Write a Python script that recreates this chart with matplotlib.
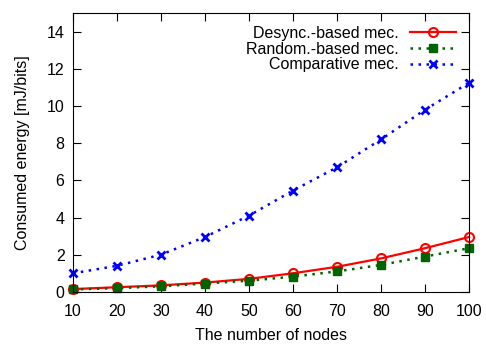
import matplotlib.pyplot as plt

plt.rcParams["font.family"] = ["Liberation Sans", "DejaVu Sans"]
plt.rcParams["font.size"] = 11.5

nodes = [10, 20, 30, 40, 50, 60, 70, 80, 90, 100]
desync = [0.15, 0.25, 0.35, 0.5, 0.7, 1.0, 1.35, 1.8, 2.35, 2.95]
random_mec = [0.13, 0.2, 0.3, 0.45, 0.6, 0.82, 1.1, 1.45, 1.9, 2.35]
comparative = [1.0, 1.4, 2.0, 2.95, 4.1, 5.45, 6.7, 8.2, 9.8, 11.25]

fig = plt.figure(figsize=(4.86, 3.45), dpi=100)
ax = fig.add_axes([0.150, 0.154, 0.815, 0.808])

ax.plot(nodes, desync, color="#ff0000", lw=1.6, marker="o", ms=6.5,
        mfc="none", mew=1.5, label="Desync.-based mec.", clip_on=False)
ax.plot(nodes, random_mec, color="#006400", lw=1.8, ls=(0, (1, 2.2)),
        marker="s", ms=5.5, label="Random.-based mec.", clip_on=False)
ax.plot(nodes, comparative, color="#0000ff", lw=1.8, ls=(0, (1, 2.2)),
        marker="x", ms=6, mew=2, label="Comparative mec.", clip_on=False)

ax.set_xlim(10, 100)
ax.set_ylim(0, 15)
ax.set_xticks(nodes)
ax.set_yticks(range(0, 15, 2))
ax.tick_params(direction="in", top=True, right=True, length=6)
ax.tick_params(axis="x", pad=9)
ax.tick_params(axis="y", pad=6)
ax.set_xlabel("The number of nodes", labelpad=6)
ax.set_ylabel("Consumed energy [mJ/bits]", labelpad=12)

ax.legend(loc="upper right", frameon=False, markerfirst=False,
          handlelength=2.9, labelspacing=0.05, borderaxespad=0.6,
          handletextpad=0.7, borderpad=0.2)

fig.savefig("out.png", dpi=100)
